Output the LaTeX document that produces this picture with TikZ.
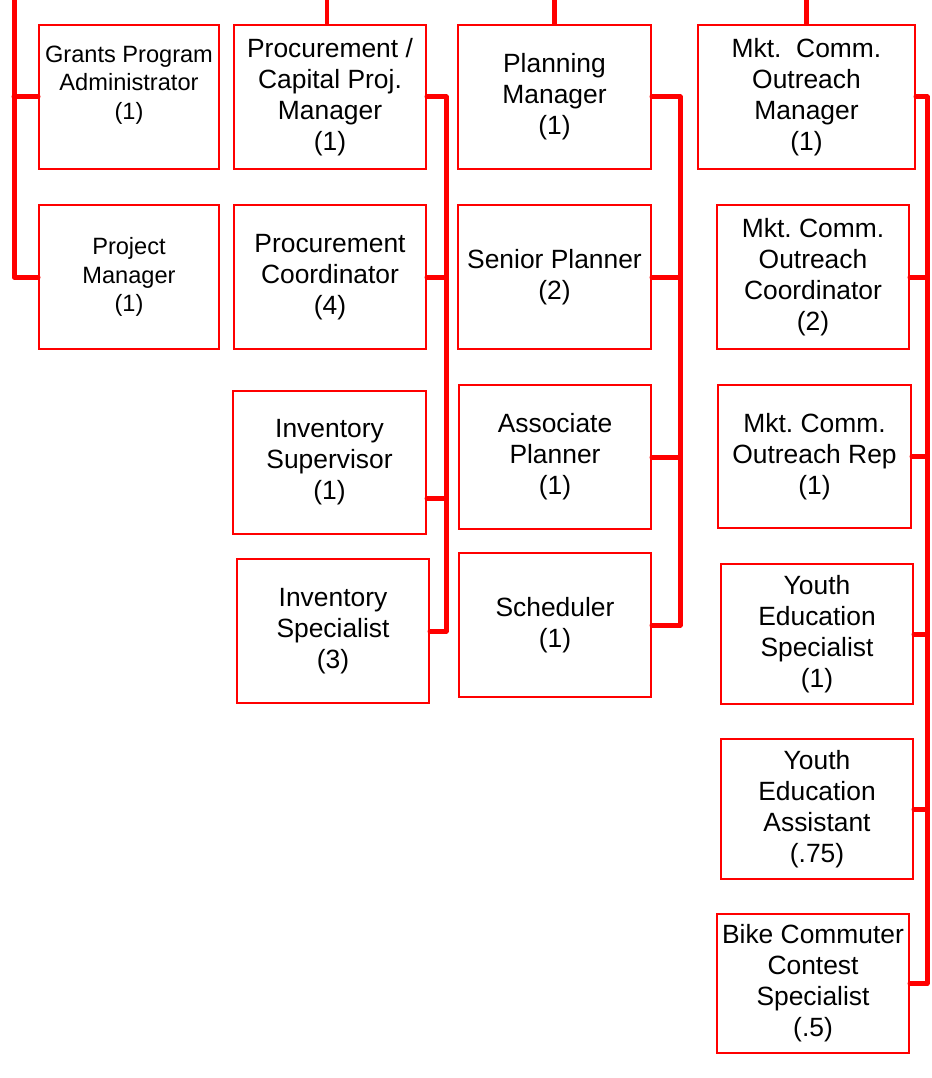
\documentclass[tikz,border=0pt]{standalone}
\usepackage{fontspec}
\setmainfont{Liberation Sans}
\usepackage{tikz}
\usetikzlibrary{positioning}
\frenchspacing

\tikzset{
  box/.style={draw=red, line width=2pt, rectangle, align=center, inner sep=0pt,
    minimum width=192pt, minimum height=144pt,
    font=\fontsize{26.4}{31}\selectfont},
  smallbox/.style={box, minimum width=180pt,
    font=\fontsize{23.6}{28.5}\selectfont},
  bus/.style={draw=red, line width=5pt, line cap=round, line join=round},
  topline/.style={draw=red, line width=4.5pt}
}

\begin{document}
\begin{tikzpicture}[x=1pt, y=-1pt]
  \useasboundingbox (0,0) rectangle (931,1078);
  \coordinate (top) at (0,-10);

  %%%%%%%%%%%%%%%%Left column%%%%%%%%%%%%%%
  \node[smallbox] (gpa) at (129,97) {Grants Program\\Administrator\\(1)\\\mbox{}};
  \node[smallbox] (pm) at (129,277) {Project\\Manager\\(1)};
  \coordinate (busl) at (14,0);
  \draw[bus] (busl |- top) -- (pm.west -| busl) -- (pm.west);
  \draw[bus] (gpa.west -| busl) -- (gpa.west);

  %%%%%%%%%%%%%%%%Procurement%%%%%%%%%%%%%%
  \node[box] (pcm) at (330,97) {Procurement /\\Capital Proj.\\Manager\\(1)};
  \node[box] (pc) at (330,277) {Procurement\\Coordinator\\(4)};
  \node[box, minimum width=193pt, minimum height=143pt] (isup) at (329.5,462.5) {Inventory\\Supervisor\\(1)};
  \node[box] (ispec) at (333,631) {Inventory\\Specialist\\(3)};
  \coordinate (bus2) at (446,0);
  \draw[topline] (pcm.north -| 327,0) -- (327,-10);
  \draw[bus] (pcm.east) -- (pcm.east -| bus2) -- (ispec.east -| bus2) -- (ispec.east);
  \draw[bus] (pc.east) -- (pc.east -| bus2);
  \draw[bus] ([yshift=-36pt]isup.east) -- ([yshift=-36pt]isup.east -| bus2);

  %%%%%%%%%%%%%%%%Planning%%%%%%%%%%%%%%
  \node[box, minimum width=193pt] (plm) at (554.5,97) {Planning\\Manager\\(1)};
  \node[box, minimum width=193pt] (spl) at (554.5,277) {Senior Planner\\(2)};
  \node[box] (apl) at (555,457) {Associate\\Planner\\(1)};
  \node[box] (sch) at (555,625) {Scheduler\\(1)};
  \coordinate (bus3) at (680,0);
  \draw[topline] (plm.north) -- (plm.north |- top);
  \draw[bus] (plm.east) -- (plm.east -| bus3) -- (sch.east -| bus3) -- (sch.east);
  \draw[bus] (spl.east) -- (spl.east -| bus3);
  \draw[bus] (apl.east) -- (apl.east -| bus3);

  %%%%%%%%%%%%%%%%Marketing%%%%%%%%%%%%%%
  \node[box, minimum width=217pt] (mcm) at (806.5,97) {Mkt.\ \ Comm.\\Outreach\\Manager\\(1)};
  \node[box] (mcc) at (813,277) {Mkt. Comm.\\Outreach\\Coordinator\\(2)};
  \node[box, minimum width=193pt, minimum height=143pt] (mcr) at (814.5,456.5) {Mkt. Comm.\\Outreach Rep\\(1)};
  \node[box, minimum height=140pt] (yes) at (817,634) {Youth\\Education\\Specialist\\(1)};
  \node[box, minimum height=140pt] (yea) at (817,809) {Youth\\Education\\Assistant\\(.75)};
  \node[box, minimum height=139pt] (bcc) at (813,983.5) {Bike Commuter\\Contest\\Specialist\\(.5)};
  \coordinate (bus4) at (927,0);
  \draw[topline] (mcm.north) -- (mcm.north |- top);
  \draw[bus] (mcm.east) -- (mcm.east -| bus4) -- (bcc.east -| bus4) -- (bcc.east);
  \draw[bus] (mcc.east) -- (mcc.east -| bus4);
  \draw[bus] (mcr.east) -- (mcr.east -| bus4);
  \draw[bus] (yes.east) -- (yes.east -| bus4);
  \draw[bus] (yea.east) -- (yea.east -| bus4);

\end{tikzpicture}
\end{document}
